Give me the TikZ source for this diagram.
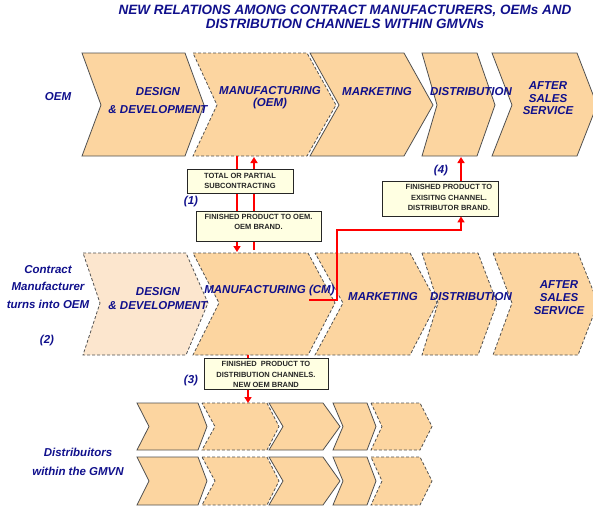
\documentclass[tikz,border=0pt]{standalone}
\usepackage{fontspec}
\setmainfont{Liberation Sans}
\usetikzlibrary{arrows.meta}
\definecolor{peach}{RGB}{252,213,160}
\definecolor{lightpeach}{RGB}{252,230,206}
\definecolor{navy}{RGB}{16,16,140}
\definecolor{boxfill}{RGB}{255,255,226}
\definecolor{edge}{RGB}{80,80,80}
\newcommand\chev[8]{%
  \path[#1] (#2,#6) -- (#3,#6) -- (#4,#8) -- (#3,#7) -- (#2,#7) -- (#5,#8) -- cycle;}
\begin{document}
\begin{tikzpicture}[x=1pt,y=-1pt,
  solidchev/.style={fill=peach,draw=edge,line width=0.8pt,line join=miter},
  dashchev/.style={fill=peach,draw=edge,line width=0.8pt,dash pattern=on 3pt off 2pt},
  lightchev/.style={fill=lightpeach,draw=edge,line width=0.8pt,dash pattern=on 3pt off 2pt},
  lab/.style={font=\bfseries\itshape\fontsize{11.5}{13}\selectfont,text=navy,align=center,inner sep=0pt},
  titlestyle/.style={font=\bfseries\itshape\fontsize{13.5}{14.5}\selectfont,text=navy,align=center,inner sep=0pt},
  box/.style={draw=black!85,line width=0.8pt,fill=boxfill,inner sep=0pt},
  boxtext/.style={font=\bfseries\fontsize{7.5}{10.5}\selectfont,text=black!85,align=center,inner sep=0pt},
  redline/.style={draw=red,line width=1.8pt},
  redarrow/.style={draw=red,line width=1.8pt,-{Triangle[length=6pt,width=7pt]}}
]
\useasboundingbox (0,0) rectangle (593,507);
\clip (0,0) rectangle (593,507);

% ---- top row (OEM)
\chev{solidchev}{82}{185}{204}{101}{53}{156}{105}
\chev{dashchev}{193}{307}{336}{217}{53}{156}{105}
\chev{solidchev}{310}{404}{433}{339}{53}{156}{105}
\chev{solidchev}{422}{477}{495}{437}{53}{156}{105}
\chev{solidchev}{492}{577}{597}{512}{53}{156}{105}

% ---- middle row (CM)
\chev{lightchev}{83}{186}{208}{100}{253}{355}{303}
\chev{dashchev}{193}{308}{335}{219}{253}{355}{303}
\chev{dashchev}{315}{410}{437}{343}{253}{355}{303}
\chev{dashchev}{422}{478}{497}{438}{253}{355}{303}
\chev{dashchev}{493}{578}{598}{512}{253}{355}{303}

% ---- distributor rows
\foreach \yt/\yb/\ym in {403/450/426.5, 457/505/481}{
  \chev{solidchev}{137}{198}{207}{149}{\yt}{\yb}{\ym}
  \chev{dashchev}{202}{267}{279}{215}{\yt}{\yb}{\ym}
  \chev{solidchev}{269}{323}{340}{283}{\yt}{\yb}{\ym}
  \chev{solidchev}{333}{367}{376}{343}{\yt}{\yb}{\ym}
  \chev{dashchev}{371}{420}{432}{382}{\yt}{\yb}{\ym}
}

% ---- connection points
\coordinate (oemA) at (237,156);
\coordinate (cmA) at (237,252);
\coordinate (cmB) at (254,250);
\coordinate (oemB) at (254,157);
\coordinate (cmOut) at (309,300);
\coordinate (k1) at (337,300);
\coordinate (k2) at (337,230);
\coordinate (k3) at (461,230);
\coordinate (distTop) at (461,157);
\coordinate (cmBot) at (248,355);
\coordinate (rowA) at (248,403);

% ---- red arrows (behind boxes)
\draw[redarrow] (oemA) -- (cmA);
\draw[redarrow] (cmB) -- (oemB);
\draw[redarrow] (cmBot) -- (rowA);

% ---- boxes
\node[box,minimum width=106pt,minimum height=24pt] (b1) at (240,181) {};
\node[boxtext] (b1t) at (240,181) {TOTAL OR PARTIAL\\SUBCONTRACTING};
\node[box,minimum width=125pt,minimum height=30pt] (b2) at (258.5,226) {};
\node[boxtext] (b2t) at (258.5,222) {FINISHED PRODUCT TO OEM.\\OEM BRAND.};
\node[box,minimum width=116pt,minimum height=35pt] (b4) at (440,198.5) {};
\node[boxtext] (b4t) at (449,197.5) {FINISHED PRODUCT TO\\EXISITNG CHANNEL.\\DISTRIBUTOR BRAND.};
\node[box,minimum width=124pt,minimum height=31pt] (b3) at (266,373.5) {};
\node[boxtext] (b3t) at (266,374.5) {FINISHED\ \ PRODUCT TO\\DISTRIBUTION CHANNELS.\\NEW OEM BRAND};

\draw[redline] (cmOut) -- (k1) -- (k2) -- (k3) [-{Triangle[length=6pt,width=7pt]}] -- (b4.south -| k3);
\draw[redarrow] (b4.north -| distTop) -- (distTop);

% ---- labels
\node[titlestyle] (title) at (345,17) {NEW RELATIONS AMONG CONTRACT MANUFACTURERS, OEMs AND\\DISTRIBUTION CHANNELS WITHIN GMVNs};
\node[lab] (oem) at (58,97) {OEM};
\node[lab,font=\bfseries\itshape\fontsize{11.5}{18}\selectfont] (d1) at (158,101) {DESIGN\\\& DEVELOPMENT};
\node[lab,font=\bfseries\itshape\fontsize{11.5}{11.5}\selectfont] (m1) at (270,97.5) {MANUFACTURING\\(OEM)};
\node[lab] (mk1) at (377,92) {MARKETING};
\node[lab] (ds1) at (471,92) {DISTRIBUTION};
\node[lab,font=\bfseries\itshape\fontsize{11.5}{12.5}\selectfont] (as1) at (548,98.5) {AFTER\\SALES\\SERVICE};

\node[lab,font=\bfseries\itshape\fontsize{11.5}{17.5}\selectfont] (cmlab) at (48,287) {Contract\\Manufacturer\\turns into OEM};
\node[lab] (n2) at (47,341) {(2)};
\node[lab,font=\bfseries\itshape\fontsize{11.5}{14}\selectfont] (d2) at (158,299) {DESIGN\\\& DEVELOPMENT};
\node[lab] (m2) at (269.5,291) {MANUFACTURING (CM)};
\node[lab] (mk2) at (383,297) {MARKETING};
\node[lab] (ds2) at (471,297) {DISTRIBUTION};
\node[lab,font=\bfseries\itshape\fontsize{11.5}{13}\selectfont] (as2) at (559,298) {AFTER\\SALES\\SERVICE};

\node[lab,font=\bfseries\itshape\fontsize{11.5}{19}\selectfont] (dist) at (78,461.5) {Distribuitors\\within the GMVN};
\node[lab] (n1) at (191,202) {(1)};
\node[lab] (n4) at (441,171) {(4)};
\node[lab] (n3) at (191,381) {(3)};
\end{tikzpicture}
\end{document}
